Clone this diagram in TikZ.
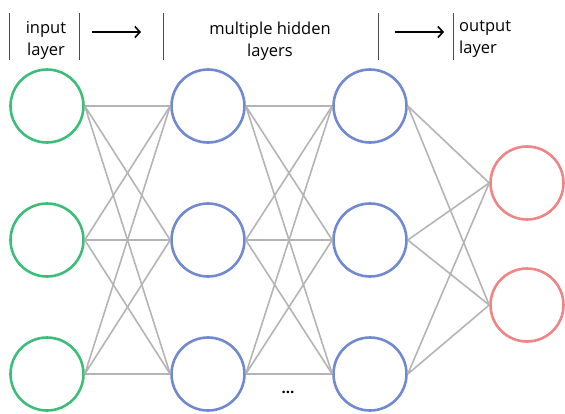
\documentclass[tikz,border=0pt]{standalone}
\usepackage{fontspec}
\setmainfont{Open Sans}
\usetikzlibrary{arrows.meta}
\definecolor{ingreen}{HTML}{3DBE78}
\definecolor{hidblue}{HTML}{7089D0}
\definecolor{outred}{HTML}{F08585}
\definecolor{edgegray}{HTML}{B4B4B4}
\begin{document}
\begin{tikzpicture}[x=1pt, y=-1pt]
        \tikzstyle{input}=[circle,draw=ingreen,line width=2.6pt,fill=white,minimum size=73pt,inner sep=0pt]
        \tikzstyle{hidden}=[circle,draw=hidblue,line width=2.6pt,fill=white,minimum size=73pt,inner sep=0pt]
        \tikzstyle{output}=[circle,draw=outred,line width=2.6pt,fill=white,minimum size=73pt,inner sep=0pt]
        \tikzstyle{edge}=[draw=edgegray,line width=1.6pt]
        \tikzstyle{label}=[font=\fontsize{16.5}{22}\selectfont,inner sep=0pt]
        \tikzstyle{bar}=[draw=black!70,line width=0.8pt]
        \tikzstyle{flow}=[line width=1.6pt,-{Straight Barb[length=5pt,width=11pt]}]

        \useasboundingbox (0,0) rectangle (565,413);

        % header
        \draw[bar] (9,13) -- (9,60);
        \draw[bar] (79,13) -- (79,60);
        \draw[bar] (163,13) -- (163,60);
        \draw[bar] (378,13) -- (378,60);
        \draw[bar] (453,13) -- (453,60);
        \node[label,align=center] (L_in) at (46,40) {input\\layer};
        \node[label,align=center] (L_hid) at (270,41) {multiple hidden\\layers};
        \node[label,align=left,anchor=west] (L_out) at (459,39) {output\\layer};
        \coordinate (A_1) at (92,32);
        \coordinate (A_2) at (141,32);
        \coordinate (A_3) at (395,32);
        \coordinate (A_4) at (444,32);
        \draw[flow] (A_1) -- (A_2);
        \draw[flow] (A_3) -- (A_4);

        % layers
        \node[input] (I_1) at (47,106) {};
        \node[input] (I_2) at (47,240) {};
        \node[input] (I_3) at (47,374) {};
        \node[hidden] (H_1) at (208,106) {};
        \node[hidden] (H_2) at (208,240) {};
        \node[hidden] (H_3) at (208,374) {};
        \node[hidden] (K_1) at (370,106) {};
        \node[hidden] (K_2) at (370,240) {};
        \node[hidden] (K_3) at (370,374) {};
        \node[output] (O_1) at (527,183) {};
        \node[output] (O_2) at (527,305) {};
        \node[font=\fontsize{15}{15}\selectfont\bfseries] (D) at (288,392) {...};

        \draw[edge] (I_1.east) -- (H_1.west) (I_1.east) -- (H_2.west) (I_1.east) -- (H_3.west);
        \draw[edge] (I_2.east) -- (H_1.west) (I_2.east) -- (H_2.west) (I_2.east) -- (H_3.west);
        \draw[edge] (I_3.east) -- (H_1.west) (I_3.east) -- (H_2.west) (I_3.east) -- (H_3.west);
        \draw[edge] (H_1.east) -- (K_1.west) (H_1.east) -- (K_2.west) (H_1.east) -- (K_3.west);
        \draw[edge] (H_2.east) -- (K_1.west) (H_2.east) -- (K_2.west) (H_2.east) -- (K_3.west);
        \draw[edge] (H_3.east) -- (K_1.west) (H_3.east) -- (K_2.west) (H_3.east) -- (K_3.west);
        \draw[edge] (K_1.east) -- (O_1.west) (K_1.east) -- (O_2.west);
        \draw[edge] (K_2.east) -- (O_1.west) (K_2.east) -- (O_2.west);
        \draw[edge] (K_3.east) -- (O_1.west) (K_3.east) -- (O_2.west);
    \end{tikzpicture}
\end{document}
